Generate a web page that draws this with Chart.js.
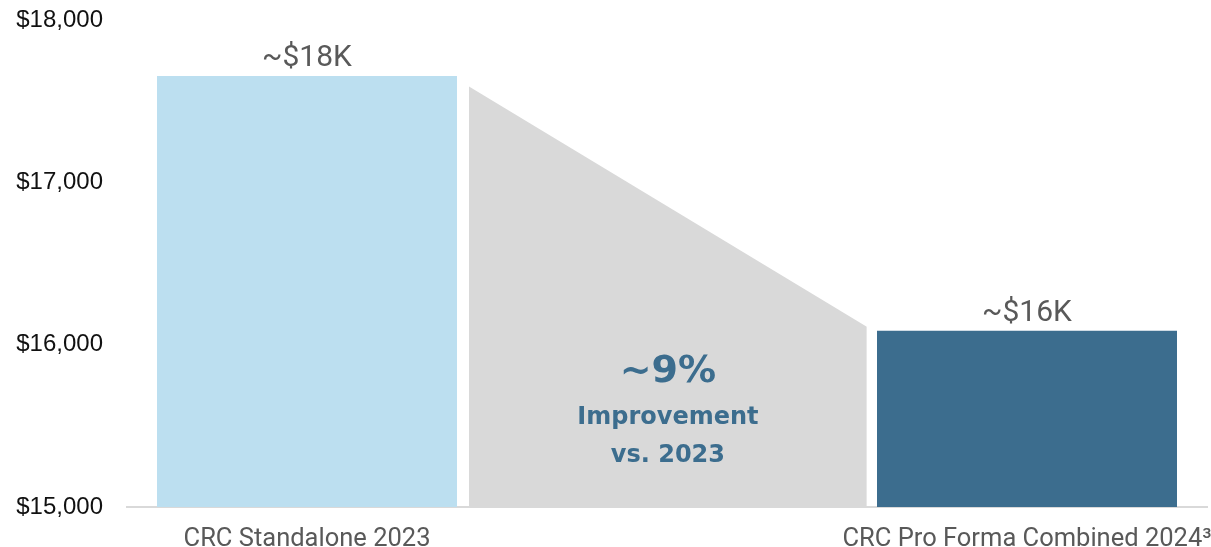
<!DOCTYPE html>
<html>
<head>
<meta charset="utf-8">
<title>CRC cost comparison</title>
<script src="https://cdn.jsdelivr.net/npm/chart.js@4"></script>
<style>
    html, body { margin: 0; padding: 0; background: #ffffff; }
    #chart-wrap { width: 1211px; height: 547px; position: relative; }
</style>
</head>
<body>
<div id="chart-wrap"><canvas id="costChart"></canvas></div>
<script>
// data
const categories = ["CRC Standalone 2023", "", "CRC Pro Forma Combined 2024\u00B3"];
const barValues = [17655, null, 16085];
const valueLabels = ["~$18K", "", "~$16K"];
const yTicks = [15000, 16000, 17000, 18000];

// grey bridge between the bars (x in category units)
const bridgeX = [0.45, 1.555];
const bridgeY = [17590, 16110];

// text in the middle of the bridge
const noteLines = ["~9%", "Improvement", "vs. 2023"];
const noteY = [15830, 15548, 15314];

const BLUE_LIGHT = "#bcdff0";
const BLUE_DARK = "#3c6d8e";
const GREY = "#d9d9d9";
const LABEL_GREY = "#595959";

// labels above bars + note in the bridge
const labelPlugin = {
    id: "labelPlugin",
    afterDatasetsDraw(chart) {
        const ctx = chart.ctx;
        const meta = chart.getDatasetMeta(1);
        ctx.save();
        ctx.fillStyle = LABEL_GREY;
        ctx.font = "30px Roboto";
        ctx.textAlign = "center";
        ctx.textBaseline = "alphabetic";
        meta.data.forEach((bar, i) => {
            if (barValues[i] == null) return;
            ctx.fillText(valueLabels[i], bar.x, bar.y - 10);
        });

        const xs = chart.scales.xb;
        const ys = chart.scales.y;
        const cx = (xs.getPixelForValue(bridgeX[0]) + xs.getPixelForValue(bridgeX[1])) / 2;
        ctx.fillStyle = BLUE_DARK;
        ctx.textBaseline = "middle";
        noteLines.forEach((txt, i) => {
            ctx.font = i === 0 ? "bold 38px 'DejaVu Sans'" : "bold 24px 'DejaVu Sans'";
            ctx.fillText(txt, cx, ys.getPixelForValue(noteY[i]));
        });
        ctx.restore();
    }
};

document.addEventListener("DOMContentLoaded", () => {
    const canvas = document.getElementById("costChart");
    const ctx = canvas.getContext("2d");

    new Chart(ctx, {
        type: "bar",
        data: {
            labels: categories,
            datasets: [
                {
                    type: "line",
                    label: "Bridge",
                    data: bridgeX.map((x, i) => ({ x: x, y: bridgeY[i] })),
                    xAxisID: "xb",
                    borderWidth: 0,
                    pointRadius: 0,
                    tension: 0,
                    fill: "start",
                    backgroundColor: GREY,
                    order: 2,
                },
                {
                    label: "Cost",
                    data: barValues,
                    xAxisID: "x",
                    backgroundColor: [BLUE_LIGHT, GREY, BLUE_DARK],
                    categoryPercentage: 1,
                    barPercentage: 300 / 360,
                    grouped: false,
                    order: 1,
                },
            ],
        },
        options: {
            responsive: true,
            maintainAspectRatio: false,
            animation: false,
            layout: { padding: { top: 20, right: 4, left: 0, bottom: 0 } },
            plugins: {
                legend: { display: false },
                tooltip: { enabled: false },
            },
            scales: {
                x: {
                    type: "category",
                    offset: true,
                    grid: { display: false, drawTicks: false },
                    border: { display: true, color: GREY, width: 2 },
                    ticks: {
                        color: LABEL_GREY,
                        font: { family: "Roboto", size: 25.5 },
                        padding: 17,
                        maxRotation: 0,
                        autoSkip: false,
                    },
                    afterFit(scale) {
                        scale.height = 40;
                        scale.paddingLeft = 0;
                        scale.paddingRight = 0;
                    },
                },
                xb: {
                    type: "linear",
                    display: false,
                    offset: false,
                    grace: 0,
                    min: -0.5,
                    max: 2.5,
                },
                y: {
                    min: yTicks[0],
                    max: yTicks[yTicks.length - 1],
                    grid: { display: false, drawTicks: false },
                    border: { display: false },
                    afterBuildTicks(scale) {
                        scale.ticks = yTicks.map(v => ({ value: v }));
                    },
                    ticks: {
                        color: "#111111",
                        font: { family: "Liberation Sans", size: 24 },
                        padding: 24,
                        callback: v => "$" + v.toLocaleString("en-US"),
                    },
                    afterFit(scale) {
                        scale.width = 127;
                        scale.paddingTop = 0;
                        scale.paddingBottom = 0;
                    },
                },
            },
        },
        plugins: [labelPlugin],
    });
});
</script>
</body>
</html>
